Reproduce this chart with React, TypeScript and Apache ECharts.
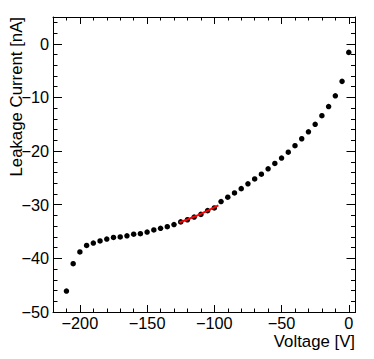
import React, { useEffect, useRef } from "react";
import * as echarts from "echarts";

const voltage = [
  -210, -205, -200, -195, -190, -185, -180, -175, -170, -165, -160, -155, -150, -145,
  -140, -135, -130, -125, -120, -115, -110, -105, -100, -95, -90, -85, -80, -75, -70,
  -65, -60, -55, -50, -45, -40, -35, -30, -25, -20, -15, -10, -5, 0,
];
const current = [
  -46.1, -41.0, -38.8, -37.6, -37.15, -36.75, -36.4, -36.1, -36.0, -35.8, -35.5, -35.4,
  -35.1, -34.7, -34.4, -34.1, -33.7, -33.2, -32.8, -32.3, -31.8, -31.1, -30.6, -29.4,
  -28.6, -27.8, -27.0, -26.1, -25.2, -24.3, -23.3, -22.3, -21.3, -20.2, -19.0, -17.7,
  -16.4, -15.0, -13.4, -11.7, -9.7, -7.0, -1.6,
];
const fitVoltage = [-126, -120, -115, -110, -105, -100, -97];
const fitCurrent = [-33.3, -32.75, -32.25, -31.7, -31.1, -30.5, -30.1];

const xMajorTicks = [-200, -150, -100, -50, 0];
const xMinorTicks = [
  -220, -210, -190, -180, -170, -160, -140, -130, -120, -110, -90, -80, -70, -60, -40,
  -30, -20, -10,
];
const yMajorTicks = [-50, -40, -30, -20, -10, 0];
const yMinorTicks = [
  -48, -46, -44, -42, -38, -36, -34, -32, -28, -26, -24, -22, -18, -16, -14, -12, -8, -6,
  -4, -2, 2, 4,
];

const FONT = "Liberation Sans";
const fmt = (v: number) => String(v).replace("-", "\u2212");

function axis(
  min: number,
  max: number,
  position: string,
  ticks: number[],
  tickLen: number,
  showLine: boolean,
  showLabels: boolean,
  labelMargin: number
) {
  return {
    type: "value",
    position,
    min,
    max,
    splitLine: { show: false },
    axisLine: { show: showLine, onZero: false, lineStyle: { color: "#000", width: 1 } },
    axisTick: {
      show: true,
      inside: true,
      length: tickLen,
      customValues: ticks,
      lineStyle: { color: "#000", width: 1 },
    },
    axisLabel: {
      show: showLabels,
      customValues: ticks,
      formatter: fmt,
      fontSize: 16.3,
      fontFamily: FONT,
      color: "#000",
      margin: labelMargin,
    },
  };
}

export default function App() {
  const ref = useRef<HTMLDivElement>(null);
  useEffect(() => {
    if (!ref.current) return;
    const chart = echarts.init(ref.current, null, { renderer: "svg" });
    chart.setOption({
      animation: false,
      backgroundColor: "#fff",
      grid: {
        left: 53,
        right: 18.5,
        top: 17,
        bottom: 47,
        containLabel: false,
        outerBoundsMode: "none",
      },
      xAxis: [
        axis(-220, 5, "bottom", xMajorTicks, 7, true, true, 3),
        axis(-220, 5, "bottom", xMinorTicks, 3.5, false, false, 3),
        axis(-220, 5, "top", xMajorTicks, 7, true, false, 3),
        axis(-220, 5, "top", xMinorTicks, 3.5, false, false, 3),
      ],
      yAxis: [
        axis(-50, 5, "left", yMajorTicks, 9, true, true, 4),
        axis(-50, 5, "left", yMinorTicks, 4.5, false, false, 4),
        axis(-50, 5, "right", yMajorTicks, 9, true, false, 4),
        axis(-50, 5, "right", yMinorTicks, 4.5, false, false, 4),
      ],
      series: [
        {
          type: "scatter",
          xAxisIndex: 0,
          yAxisIndex: 0,
          data: voltage.map((v, i) => [v, current[i]]),
          symbol: "circle",
          symbolSize: 5.5,
          itemStyle: { color: "#000", opacity: 1 },
          z: 2,
        },
        {
          type: "line",
          xAxisIndex: 0,
          yAxisIndex: 0,
          data: fitVoltage.map((v, i) => [v, fitCurrent[i]]),
          symbol: "none",
          showSymbol: false,
          smooth: true,
          lineStyle: { color: "#ff0000", width: 2 },
          z: 5,
        },
      ],
      graphic: [
        {
          type: "text",
          x: 355,
          y: 341,
          style: {
            text: "Voltage [V]",
            fontSize: 16.8,
            fontFamily: FONT,
            fill: "#000",
            align: "right",
            verticalAlign: "middle",
          },
        },
        {
          type: "text",
          x: 16,
          y: 17,
          rotation: Math.PI / 2,
          style: {
            text: "Leakage Current [nA]",
            fontSize: 16.8,
            fontFamily: FONT,
            fill: "#000",
            align: "right",
            verticalAlign: "middle",
          },
        },
      ],
    });
    return () => chart.dispose();
  }, []);
  return (
    <div
      ref={ref}
      style={{ position: "fixed", left: 0, top: 0, width: 374, height: 359, background: "#fff" }}
    />
  );
}
